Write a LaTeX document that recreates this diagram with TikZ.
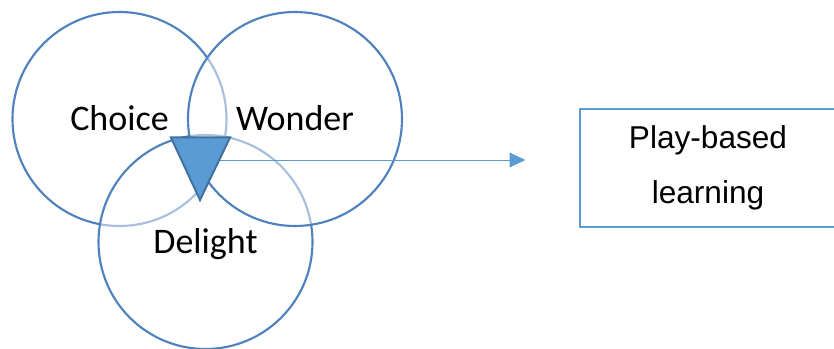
\documentclass[tikz,border=0pt]{standalone}
\usepackage{fontspec}
\setmainfont{Liberation Sans}
\newfontfamily\calibri{Carlito}
\usetikzlibrary{arrows.meta,positioning}

\definecolor{ringblue}{HTML}{4F81BD}
\definecolor{accent}{HTML}{5B9BD5}
\definecolor{accentdark}{HTML}{41719C}

\tikzset{
  ring/.style={circle,draw=ringblue,line width=1.6pt,fill=white,fill opacity=0.5,
    text opacity=1,minimum size=160.5pt,inner sep=0pt,text height=17pt,text depth=0pt,
    font=\calibri\fontsize{27}{32}\selectfont},
}

\begin{document}
\begin{tikzpicture}[x=0.75pt,y=-0.75pt]
  \useasboundingbox (0,0) rectangle (834,349);
  % three rings, half-transparent so the arcs below show faded
  \node[ring] (choice) at (119.5,119) {Choice};
  \node[ring] (delight) at (205.5,242) {Delight};
  \node[ring] (wonder) at (295,119) {Wonder};

  % pointer from the overlap to the outcome
  \coordinate (hub) at (210,160);
  \coordinate (tip) at (525.5,160);
  \draw[accent,line width=0.75pt,-{Triangle[length=12pt,width=11pt]}] (hub) -- (tip);
  \draw[fill=accent,draw=accentdark,line width=1.5pt] (171,137.5) -- (230,137.5) -- (200,200) -- cycle;

  \node[draw=accent,line width=1.5pt,minimum width=192pt,minimum height=88.9pt,
    align=center,font=\fontsize{23.7}{41.25}\selectfont] (play) at (708,168) {Play-based\\learning};
\end{tikzpicture}
\end{document}
